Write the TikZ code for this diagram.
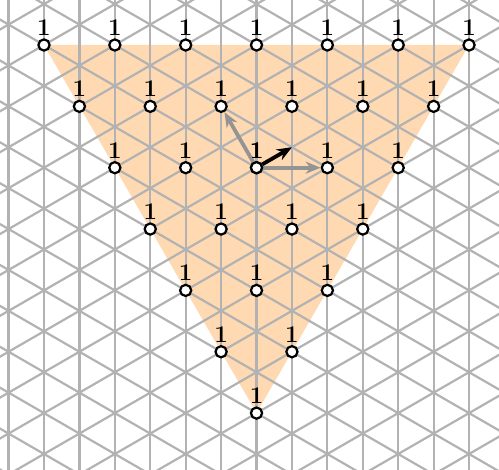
\documentclass[tikz,border=0pt]{standalone}
\usetikzlibrary{arrows.meta}
\begin{document}
\begin{tikzpicture}[x=0.5pt,y=-0.5pt,
  gridline/.style={draw=black!30,line width=1.1pt},
  region/.style={fill=orange!30},
  site/.style={circle,draw=black,fill=white,line width=1.1pt,inner sep=0pt,minimum size=5.6pt,
    label={[lbl]above:1}},
  lbl/.style={inner sep=1.2pt,font=\large\bfseries},
  basisarrow/.style={draw=black!42,line width=1.9pt,-{Stealth[length=7.5pt,width=6pt]},shorten <=-0.5pt},
  pointer/.style={draw=black,line width=1.9pt,-{Stealth[length=7.5pt,width=6pt]}}]
\def\dd{35.42}
\def\ss{40.9}
\useasboundingbox (0,0) rectangle (499,470);
% shaded triangle
\fill[region] (44,45) -- (469,45) -- ({44+6*\dd},{45+9*\ss}) -- cycle;
% triangular grid
\begin{scope}
\clip (0,0) rectangle (499,470);
\foreach \m in {-1,...,12}{
  \draw[gridline] ({44+\m*\dd},-5) -- ({44+\m*\dd},475);
}
\foreach \j in {-9,...,19}{
  \draw[gridline] ({44-20*\dd},{45+\j*\ss-10*\ss}) -- ({44+20*\dd},{45+\j*\ss+10*\ss});
  \draw[gridline] ({44-20*\dd},{45+\j*\ss+10*\ss}) -- ({44+20*\dd},{45+\j*\ss-10*\ss});
}
\end{scope}
% lattice sites
\foreach \r in {0,...,6}{
  \pgfmathtruncatemacro{\kmax}{6-\r}
  \foreach \k in {0,...,\kmax}{
    \node[site] (p-\r-\k) at ({44+\r*\dd+2*\k*\dd},{45+1.5*\r*\ss}) {};
  }
}
% arrows
\coordinate (tipb) at ({44+7*\dd},{45+2.5*\ss});
\draw[basisarrow] (p-2-2) -- (p-2-3);
\draw[basisarrow] (p-2-2) -- (p-1-2);
\draw[pointer] (p-2-2) -- (tipb);
% redraw the centre site on top
\node[site] at (p-2-2) {};
\end{tikzpicture}
\end{document}
